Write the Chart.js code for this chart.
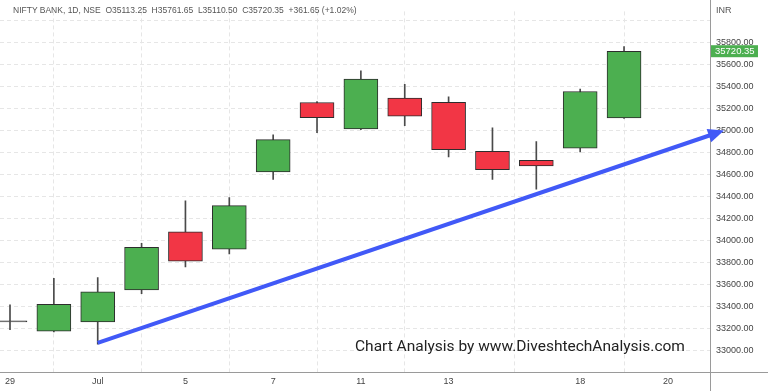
<!DOCTYPE html>
<html>
<head>
<meta charset="utf-8">
<script src="https://cdn.jsdelivr.net/npm/chart.js@4"></script>
<style>
  body { margin: 0; background: #fff; }
  #wrap { position: relative; width: 768px; height: 391px; }
  #header { position: absolute; left: 13px; top: 5px; font: 8.5px "Liberation Sans", Arial, sans-serif; color: #555; white-space: pre; }
  #inr { position: absolute; left: 716px; top: 5px; font: 9px "Liberation Sans", Arial, sans-serif; color: #555; }
  #mark { position: absolute; left: 355px; top: 337px; font: 15.5px Roboto, sans-serif; color: #222; white-space: pre; }
</style>
</head>
<body>
<div id="wrap">
  <canvas id="chart" width="768" height="391"></canvas>
  <div id="header">NIFTY BANK, 1D, NSE  O35113.25  H35761.65  L35110.50  C35720.35  +361.65 (+1.02%)</div>
  <div id="inr">INR</div>
  <div id="mark">Chart Analysis by www.DiveshtechAnalysis.com</div>
</div>
<script>
// trading days (index on x axis)
const days = ['29', '30', 'Jul', '4', '5', '6', '7', '8', '11', '12', '13', '14', '15', '18', '19'];
const opens  = [33262, 33176, 33261, 33552, 34080, 33922, 34623, 35254, 35014, 35295, 35257, 34811, 34728, 34840, 35113.25];
const highs  = [33416, 33658, 33663, 33975, 34362, 34391, 34961, 35263, 35542, 35419, 35307, 35025, 34899, 35377, 35761.65];
const lows   = [33190, 33170, 33059, 33517, 33760, 33878, 34556, 34981, 35008, 35045, 34761, 34556, 34468, 34805, 35110.50];
const closes = [33270, 33420, 33534, 33939, 33813, 34318, 34917, 35116, 35468, 35131, 34825, 34644, 34679, 35354, 35720.35];

// x axis labels
const tickIdx = [0, 2, 4, 6, 8, 10, 13, 15];
const tickLabels = ['29', 'Jul', '5', '7', '11', '13', '18', '20'];

// trend arrow (index, price)
const trendX = [2, 16.28];
const trendY = [33070, 35000];

const lastClose = closes[closes.length - 1];

const bodyColors = opens.map((o, i) => {
    if (Math.abs(closes[i] - o) < 20) return '#555';
    return closes[i] >= o ? '#4CAF50' : '#F23645';
});

// arrow + price tag + extended axis lines
const extras = {
    id: 'extras',
    afterDraw(chart) {
        const ctx = chart.ctx;
        const xs = chart.scales.x, ys = chart.scales.y;
        const area = chart.chartArea;

        ctx.save();
        ctx.strokeStyle = '#9a9a9a';
        ctx.lineWidth = 1;
        ctx.beginPath();
        ctx.moveTo(area.right + 0.5, 0);
        ctx.lineTo(area.right + 0.5, chart.height);
        ctx.moveTo(0, area.bottom + 0.5);
        ctx.lineTo(chart.width, area.bottom + 0.5);
        ctx.stroke();

        // arrow
        const x1 = xs.getPixelForValue(trendX[0]), y1 = ys.getPixelForValue(trendY[0]);
        const x2 = xs.getPixelForValue(trendX[1]), y2 = ys.getPixelForValue(trendY[1]);
        const len = Math.hypot(x2 - x1, y2 - y1);
        const ux = (x2 - x1) / len, uy = (y2 - y1) / len;
        const headLen = 16, headW = 7;
        const bx = x2 - ux * headLen, by = y2 - uy * headLen;
        ctx.strokeStyle = '#4159F7';
        ctx.fillStyle = '#4159F7';
        ctx.lineWidth = 4;
        ctx.beginPath();
        ctx.moveTo(x1, y1);
        ctx.lineTo(bx + ux * 2, by + uy * 2);
        ctx.stroke();
        ctx.beginPath();
        ctx.moveTo(x2, y2);
        ctx.lineTo(bx - uy * headW, by + ux * headW);
        ctx.lineTo(bx + uy * headW, by - ux * headW);
        ctx.closePath();
        ctx.fill();

        // last price tag
        const py = ys.getPixelForValue(lastClose);
        ctx.fillStyle = '#4CAF50';
        ctx.fillRect(area.right + 1, py - 6, 47, 12);
        ctx.fillStyle = '#fff';
        ctx.font = '9.5px "Liberation Sans", Arial, sans-serif';
        ctx.textBaseline = 'middle';
        ctx.fillText(lastClose.toFixed(2), area.right + 5, py + 0.5);
        ctx.restore();
    }
};

const ctx = document.getElementById('chart').getContext('2d');
new Chart(ctx, {
    type: 'bar',
    data: {
        datasets: [{
            label: 'body',
            data: days.map((d, i) => ({x: i, y: [opens[i], closes[i]]})),
            backgroundColor: bodyColors,
            borderColor: '#2d2d2d',
            borderWidth: 1,
            borderSkipped: false,
            barThickness: 34,
            grouped: false,
            order: 0
        }, {
            label: 'wick',
            data: days.map((d, i) => ({x: i, y: [lows[i], highs[i]]})),
            backgroundColor: '#4a4a4a',
            borderWidth: 0,
            barThickness: 1,
            grouped: false,
            order: 1
        }]
    },
    options: {
        responsive: false,
        animation: false,
        layout: { padding: 0 },
        plugins: {
            legend: { display: false },
            tooltip: { enabled: false }
        },
        scales: {
            x: {
                type: 'linear',
                min: -0.228,
                max: 15.96,
                offset: false,
                afterBuildTicks: axis => { axis.ticks = tickIdx.map(v => ({value: v})); },
                afterFit: axis => { axis.height = 19; },
                grid: { color: '#e6e6e6', drawTicks: false },
                border: { display: false, dash: [4, 3] },
                ticks: {
                    autoSkip: false,
                    maxRotation: 0,
                    padding: 4,
                    color: '#444',
                    font: { size: 9, family: '"Liberation Sans", Arial, sans-serif' },
                    callback: v => tickLabels[tickIdx.indexOf(v)]
                }
            },
            y: {
                type: 'linear',
                position: 'right',
                min: 32806,
                max: 36082,
                afterFit: axis => { axis.width = 58; },
                grid: { color: '#e6e6e6', drawTicks: false },
                border: { display: false, dash: [4, 3] },
                ticks: {
                    stepSize: 200,
                    maxTicksLimit: 40,
                    includeBounds: false,
                    autoSkip: false,
                    padding: 6,
                    color: '#444',
                    font: { size: 9, family: '"Liberation Sans", Arial, sans-serif' },
                    callback: v => v >= 36000 ? '' : v.toFixed(2)
                }
            }
        }
    },
    plugins: [extras]
});
</script>
</body>
</html>
